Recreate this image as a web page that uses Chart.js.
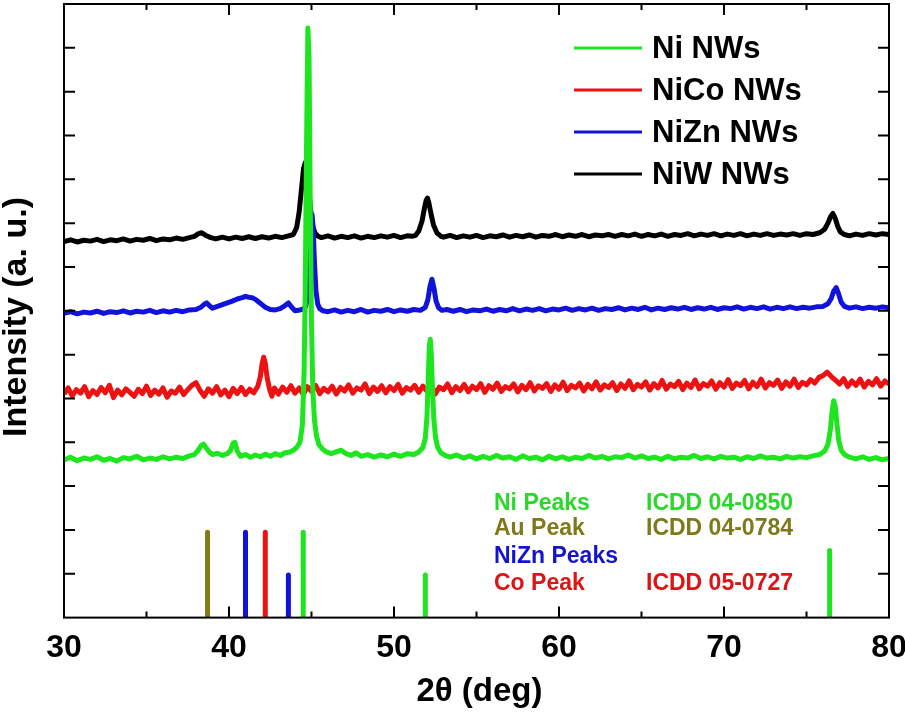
<!DOCTYPE html>
<html>
<head>
<meta charset="utf-8">
<title>XRD of Ni, NiCo, NiZn and NiW nanowires</title>
<script src="https://cdn.jsdelivr.net/npm/chart.js@4.4.1/dist/chart.umd.min.js"></script>
<style>
  html, body { margin: 0; padding: 0; background: #fff; }
  #xrd { display: block; }
</style>
</head>
<body>
<canvas id="xrd" width="905" height="720"></canvas>
<script>
// [2theta (deg), intensity], curves already stacked with their offsets
const ni = [
  [30.0,3.60],[30.4,3.66],[30.8,3.58],[31.2,3.64],[31.6,3.61],[32.0,3.67],[32.4,3.59],[32.8,3.63],[33.2,3.57],[33.6,3.65],
  [34.0,3.62],[34.4,3.68],[34.8,3.60],[35.2,3.64],[35.6,3.61],[36.0,3.67],[36.4,3.62],[36.8,3.66],[37.2,3.63],[37.6,3.69],
  [37.9,3.72],[38.1,3.80],[38.3,3.92],[38.45,3.96],[38.6,3.88],[38.8,3.78],[39.0,3.72],[39.3,3.75],[39.6,3.70],[39.9,3.74],
  [40.1,3.82],[40.25,3.98],[40.35,4.00],[40.5,3.80],[40.7,3.68],[41.0,3.72],[41.3,3.66],[41.6,3.71],[41.9,3.67],[42.2,3.73],
  [42.5,3.68],[42.8,3.74],[43.1,3.70],[43.4,3.76],[43.7,3.78],[43.9,3.82],[44.1,3.88],[44.3,4.00],[44.45,4.40],[44.55,5.60],
  [44.62,7.40],[44.7,10.8],[44.78,13.45],[44.85,12.8],[44.92,9.60],[45.0,6.70],[45.08,5.20],[45.18,4.50],[45.3,4.15],[45.45,3.95],
  [45.65,3.85],[45.9,3.78],[46.2,3.74],[46.5,3.78],[46.8,3.82],[47.1,3.74],[47.4,3.70],[47.7,3.76],[48.0,3.68],[48.4,3.72],
  [48.8,3.66],[49.2,3.71],[49.6,3.67],[50.0,3.73],[50.4,3.68],[50.8,3.74],[51.2,3.72],[51.5,3.78],[51.75,3.88],[51.9,4.10],
  [52.0,4.60],[52.08,5.50],[52.14,6.20],[52.2,6.35],[52.26,6.00],[52.33,5.20],[52.42,4.50],[52.52,4.10],[52.65,3.88],[52.85,3.76],
  [53.1,3.70],[53.4,3.66],[53.8,3.71],[54.2,3.64],[54.6,3.69],[55.0,3.62],[55.4,3.68],[55.8,3.63],[56.2,3.70],[56.6,3.64],
  [57.0,3.67],[57.4,3.61],[57.8,3.69],[58.2,3.63],[58.6,3.66],[59.0,3.60],[59.4,3.68],[59.8,3.62],[60.2,3.67],[60.6,3.61],
  [61.0,3.66],[61.4,3.63],[61.8,3.70],[62.2,3.64],[62.6,3.68],[63.0,3.62],[63.4,3.67],[63.8,3.65],[64.2,3.71],[64.6,3.64],
  [65.0,3.69],[65.4,3.63],[65.8,3.66],[66.2,3.61],[66.6,3.68],[67.0,3.62],[67.4,3.66],[67.8,3.64],[68.2,3.70],[68.6,3.63],
  [69.0,3.67],[69.4,3.62],[69.8,3.68],[70.2,3.64],[70.6,3.66],[71.0,3.61],[71.4,3.67],[71.8,3.63],[72.2,3.69],[72.6,3.64],
  [73.0,3.66],[73.4,3.62],[73.8,3.68],[74.2,3.64],[74.6,3.67],[75.0,3.65],[75.4,3.69],[75.8,3.72],[76.1,3.80],[76.3,3.95],
  [76.45,4.30],[76.55,4.70],[76.65,4.95],[76.75,4.80],[76.85,4.40],[76.95,4.05],[77.1,3.82],[77.3,3.72],[77.6,3.66],[78.0,3.62],
  [78.4,3.67],[78.8,3.61],[79.2,3.65],[79.6,3.60],[80.0,3.63]
];

const nico = [
  [30.0,5.10],[30.25,5.24],[30.5,5.06],[30.75,5.20],[31.0,5.12],[31.25,5.27],[31.5,5.04],[31.75,5.18],[32.0,5.09],[32.25,5.25],
  [32.5,5.13],[32.75,5.30],[33.0,5.02],[33.25,5.19],[33.5,5.08],[33.75,5.22],[34.0,5.14],[34.25,5.05],[34.5,5.21],[34.75,5.11],
  [35.0,5.28],[35.25,5.07],[35.5,5.19],[35.75,5.10],[36.0,5.24],[36.25,5.03],[36.5,5.17],[36.75,5.12],[37.0,5.26],[37.25,5.09],
  [37.5,5.20],[37.75,5.30],[38.0,5.36],[38.25,5.18],[38.5,5.05],[38.75,5.22],[39.0,5.12],[39.25,5.27],[39.5,5.08],[39.75,5.19],
  [40.0,5.04],[40.25,5.23],[40.5,5.11],[40.75,5.25],[41.0,5.09],[41.25,5.21],[41.5,5.13],[41.75,5.28],[41.9,5.50],[42.0,5.78],
  [42.1,5.94],[42.2,5.80],[42.3,5.50],[42.45,5.22],[42.6,5.05],[42.75,5.24],[43.0,5.10],[43.25,5.26],[43.5,5.14],[43.75,5.29],
  [44.0,5.12],[44.25,5.24],[44.5,5.09],[44.75,5.27],[45.0,5.16],[45.25,5.30],[45.5,5.11],[45.75,5.23],[46.0,5.15],[46.25,5.28],
  [46.5,5.10],[46.75,5.25],[47.0,5.17],[47.25,5.31],[47.5,5.12],[47.75,5.24],[48.0,5.19],[48.25,5.33],[48.5,5.11],[48.75,5.26],
  [49.0,5.16],[49.25,5.29],[49.5,5.13],[49.75,5.27],[50.0,5.18],[50.25,5.32],[50.5,5.12],[50.75,5.25],[51.0,5.19],[51.25,5.30],
  [51.5,5.14],[51.75,5.28],[52.0,5.17],[52.25,5.31],[52.5,5.10],[52.75,5.26],[53.0,5.20],[53.25,5.33],[53.5,5.13],[53.75,5.27],
  [54.0,5.18],[54.25,5.32],[54.5,5.15],[54.75,5.28],[55.0,5.20],[55.25,5.34],[55.5,5.14],[55.75,5.29],[56.0,5.21],[56.25,5.35],
  [56.5,5.16],[56.75,5.27],[57.0,5.22],[57.25,5.33],[57.5,5.15],[57.75,5.30],[58.0,5.20],[58.25,5.36],[58.5,5.17],[58.75,5.29],
  [59.0,5.23],[59.25,5.34],[59.5,5.16],[59.75,5.31],[60.0,5.21],[60.25,5.37],[60.5,5.18],[60.75,5.30],[61.0,5.24],[61.25,5.35],
  [61.5,5.17],[61.75,5.32],[62.0,5.22],[62.25,5.38],[62.5,5.19],[62.75,5.31],[63.0,5.25],[63.25,5.36],[63.5,5.18],[63.75,5.33],
  [64.0,5.23],[64.25,5.40],[64.5,5.20],[64.75,5.32],[65.0,5.26],[65.25,5.38],[65.5,5.19],[65.75,5.34],[66.0,5.24],[66.25,5.41],
  [66.5,5.21],[66.75,5.33],[67.0,5.27],[67.25,5.39],[67.5,5.20],[67.75,5.35],[68.0,5.25],[68.25,5.42],[68.5,5.22],[68.75,5.34],
  [69.0,5.28],[69.25,5.40],[69.5,5.21],[69.75,5.36],[70.0,5.26],[70.25,5.43],[70.5,5.23],[70.75,5.35],[71.0,5.29],[71.25,5.41],
  [71.5,5.22],[71.75,5.37],[72.0,5.27],[72.25,5.44],[72.5,5.24],[72.75,5.36],[73.0,5.30],[73.25,5.42],[73.5,5.23],[73.75,5.38],
  [74.0,5.28],[74.25,5.44],[74.5,5.25],[74.75,5.37],[75.0,5.31],[75.25,5.43],[75.5,5.35],[75.75,5.48],[76.0,5.52],[76.25,5.60],
  [76.5,5.50],[76.75,5.42],[77.0,5.33],[77.25,5.45],[77.5,5.27],[77.75,5.40],[78.0,5.30],[78.25,5.44],[78.5,5.26],[78.75,5.39],
  [79.0,5.31],[79.25,5.45],[79.5,5.28],[79.75,5.40],[80.0,5.33]
];

const nizn = [
  [30.0,6.94],[30.4,6.98],[30.8,6.93],[31.2,6.97],[31.6,6.95],[32.0,6.99],[32.4,6.94],[32.8,6.98],[33.2,6.96],[33.6,7.00],
  [34.0,6.95],[34.4,6.99],[34.8,6.97],[35.2,7.01],[35.6,6.96],[36.0,7.00],[36.4,6.97],[36.8,7.01],[37.2,6.98],[37.6,7.02],
  [38.0,7.03],[38.3,7.08],[38.5,7.15],[38.65,7.18],[38.8,7.12],[39.0,7.06],[39.3,7.10],[39.6,7.14],[39.9,7.18],[40.2,7.22],
  [40.5,7.27],[40.8,7.30],[41.0,7.33],[41.2,7.31],[41.4,7.30],[41.6,7.26],[41.8,7.20],[42.0,7.14],[42.2,7.08],[42.5,7.03],
  [42.8,7.02],[43.1,7.05],[43.4,7.12],[43.6,7.18],[43.8,7.08],[44.0,7.00],[44.3,7.02],[44.5,7.04],[44.65,7.10],[44.75,7.30],
  [44.85,7.80],[44.95,8.60],[45.03,9.20],[45.1,8.90],[45.18,8.10],[45.27,7.45],[45.38,7.15],[45.5,7.05],[45.7,7.00],[46.0,6.98],
  [46.4,7.02],[46.8,6.97],[47.2,7.01],[47.6,6.98],[48.0,7.03],[48.4,6.97],[48.8,7.01],[49.2,6.99],[49.6,7.03],[50.0,6.98],
  [50.4,7.02],[50.8,6.99],[51.2,7.03],[51.6,7.01],[51.9,7.08],[52.05,7.25],[52.18,7.55],[52.3,7.72],[52.42,7.52],[52.55,7.22],
  [52.7,7.07],[52.9,7.01],[53.2,7.03],[53.6,6.99],[54.0,7.03],[54.4,6.98],[54.8,7.02],[55.2,7.00],[55.6,7.04],[56.0,6.99],
  [56.4,7.03],[56.8,7.00],[57.2,7.05],[57.6,7.00],[58.0,7.04],[58.4,7.01],[58.8,7.05],[59.2,7.00],[59.6,7.04],[60.0,7.02],
  [60.4,7.06],[60.8,7.01],[61.2,7.05],[61.6,7.02],[62.0,7.06],[62.4,7.01],[62.8,7.05],[63.2,7.03],[63.6,7.07],[64.0,7.02],
  [64.4,7.06],[64.8,7.03],[65.2,7.08],[65.6,7.02],[66.0,7.06],[66.4,7.03],[66.8,7.07],[67.2,7.04],[67.6,7.08],[68.0,7.03],
  [68.4,7.07],[68.8,7.04],[69.2,7.08],[69.6,7.03],[70.0,7.07],[70.4,7.05],[70.8,7.09],[71.2,7.04],[71.6,7.08],[72.0,7.05],
  [72.4,7.09],[72.8,7.04],[73.2,7.08],[73.6,7.05],[74.0,7.09],[74.4,7.05],[74.8,7.08],[75.2,7.06],[75.6,7.09],[76.0,7.10],
  [76.3,7.16],[76.5,7.28],[76.65,7.45],[76.8,7.53],[76.95,7.38],[77.1,7.20],[77.3,7.10],[77.6,7.06],[78.0,7.09],[78.4,7.05],
  [78.8,7.08],[79.2,7.06],[79.6,7.09],[80.0,7.07]
];

const niw = [
  [30.0,8.58],[30.4,8.62],[30.8,8.57],[31.2,8.61],[31.6,8.59],[32.0,8.63],[32.4,8.58],[32.8,8.62],[33.2,8.60],[33.6,8.64],
  [34.0,8.59],[34.4,8.63],[34.8,8.61],[35.2,8.65],[35.6,8.60],[36.0,8.64],[36.4,8.62],[36.8,8.66],[37.2,8.63],[37.6,8.67],
  [37.9,8.70],[38.15,8.76],[38.35,8.78],[38.6,8.72],[38.9,8.67],[39.2,8.64],[39.6,8.68],[40.0,8.64],[40.4,8.68],[40.8,8.65],
  [41.2,8.69],[41.6,8.65],[42.0,8.69],[42.4,8.66],[42.8,8.70],[43.2,8.67],[43.6,8.71],[43.9,8.74],[44.1,8.90],[44.25,9.25],
  [44.4,9.80],[44.52,10.25],[44.62,10.38],[44.72,10.20],[44.84,9.75],[44.96,9.25],[45.08,8.92],[45.22,8.77],[45.4,8.70],[45.6,8.67],
  [46.0,8.71],[46.4,8.66],[46.8,8.70],[47.2,8.67],[47.6,8.71],[48.0,8.66],[48.4,8.70],[48.8,8.67],[49.2,8.71],[49.6,8.68],
  [50.0,8.72],[50.4,8.67],[50.8,8.71],[51.1,8.70],[51.3,8.72],[51.5,8.82],[51.7,9.05],[51.85,9.35],[51.95,9.52],[52.03,9.57],
  [52.12,9.45],[52.25,9.20],[52.4,8.95],[52.6,8.78],[52.85,8.70],[53.0,8.68],[53.4,8.72],[53.8,8.67],[54.2,8.71],[54.6,8.68],
  [55.0,8.72],[55.4,8.67],[55.8,8.71],[56.2,8.69],[56.6,8.73],[57.0,8.68],[57.4,8.72],[57.8,8.69],[58.2,8.73],[58.6,8.68],
  [59.0,8.72],[59.4,8.70],[59.8,8.74],[60.2,8.69],[60.6,8.73],[61.0,8.70],[61.4,8.74],[61.8,8.69],[62.2,8.73],[62.6,8.71],
  [63.0,8.74],[63.4,8.70],[63.8,8.74],[64.2,8.71],[64.6,8.75],[65.0,8.70],[65.4,8.74],[65.8,8.71],[66.2,8.75],[66.6,8.70],
  [67.0,8.74],[67.4,8.72],[67.8,8.76],[68.2,8.71],[68.6,8.75],[69.0,8.72],[69.4,8.76],[69.8,8.71],[70.2,8.75],[70.6,8.72],
  [71.0,8.76],[71.4,8.71],[71.8,8.75],[72.2,8.72],[72.6,8.76],[73.0,8.72],[73.4,8.75],[73.8,8.73],[74.2,8.76],[74.6,8.72],
  [75.0,8.76],[75.4,8.74],[75.8,8.78],[76.1,8.86],[76.3,9.00],[76.45,9.14],[76.6,9.22],[76.75,9.10],[76.9,8.92],[77.05,8.80],
  [77.3,8.74],[77.6,8.71],[78.0,8.75],[78.4,8.72],[78.8,8.76],[79.2,8.73],[79.6,8.76],[80.0,8.74]
];

const seriesNames = ["Ni NWs", "NiCo NWs", "NiZn NWs", "NiW NWs"];

// reference stick patterns: positions (deg) and stick heights
const niRefPos = [44.5, 51.9, 76.4];
const niRefHeight = [1.95, 0.97, 1.53];
const auRefPos = [38.7];
const auRefHeight = [1.95];
const niznRefPos = [41.0, 43.6];
const niznRefHeight = [1.95, 0.97];
const coRefPos = [42.2];
const coRefHeight = [1.95];

// card captions in the lower right of the plot
const cardNames = ["Ni Peaks", "Au Peak", "NiZn Peaks", "Co Peak"];
const cardNumbers = ["ICDD 04-0850", "ICDD 04-0784", "", "ICDD 05-0727"];

const GREEN = "#1ee61e";
const RED = "#ee1111";
const BLUE = "#1212dd";
const BLACK = "#000000";
const OLIVE = "#827c16";
const FONT = '"Liberation Sans", Arial, Helvetica, sans-serif';

function toPoints(pairs) {
  return pairs.map(p => ({ x: p[0], y: p[1] }));
}

// each stick goes from the axis up to its height; a null point breaks the line between sticks
function sticks(pos, height) {
  const pts = [];
  pos.forEach((p, i) => {
    if (i > 0) pts.push({ x: p, y: null });
    pts.push({ x: p, y: 0 });
    pts.push({ x: p, y: height[i] });
  });
  return pts;
}

function trace(label, pairs, color, width) {
  return {
    label: label,
    data: toPoints(pairs),
    borderColor: color,
    borderWidth: width,
    borderJoinStyle: "round",
    pointRadius: 0,
    tension: 0,
    fill: false
  };
}

function stickSet(label, pos, height, color) {
  return {
    label: label,
    data: sticks(pos, height),
    borderColor: color,
    borderWidth: 5,
    borderCapStyle: "round",
    pointRadius: 0,
    spanGaps: false,
    fill: false
  };
}

const frameAndText = {
  id: "frameAndText",
  afterDatasetsDraw(chart) {
    const ctx = chart.ctx;
    const a = chart.chartArea;
    const x = chart.scales.x;
    const y = chart.scales.y;
    ctx.save();

    // box with inward ticks on every side
    ctx.strokeStyle = "#000";
    ctx.lineWidth = 2;
    ctx.strokeRect(a.left, a.top, a.right - a.left, a.bottom - a.top);
    ctx.beginPath();
    for (let v = 30; v <= 80; v += 5) {
      const px = x.getPixelForValue(v);
      const len = v % 10 === 0 ? 11 : 6;
      ctx.moveTo(px, a.bottom);
      ctx.lineTo(px, a.bottom - len);
      ctx.moveTo(px, a.top);
      ctx.lineTo(px, a.top + len);
    }
    for (let v = 1; v < 14; v++) {
      const py = y.getPixelForValue(v);
      ctx.moveTo(a.left, py);
      ctx.lineTo(a.left + 11, py);
      ctx.moveTo(a.right, py);
      ctx.lineTo(a.right - 11, py);
    }
    ctx.stroke();

    // legend
    const colors = [GREEN, RED, BLUE, BLACK];
    ctx.font = "bold 31px " + FONT;
    ctx.textBaseline = "alphabetic";
    ctx.textAlign = "left";
    seriesNames.forEach((name, i) => {
      const ly = 48 + i * 42;
      ctx.strokeStyle = colors[i];
      ctx.lineWidth = 3;
      ctx.beginPath();
      ctx.moveTo(574, ly);
      ctx.lineTo(642, ly);
      ctx.stroke();
      ctx.fillStyle = "#000";
      ctx.fillText(name, 652, ly + 10);
    });

    // ICDD card captions
    const capColors = ["#2ad82a", "#7e7a1c", "#1414cc", "#dd1414"];
    const capRows = [510, 535, 563, 590];
    ctx.font = "bold 23px " + FONT;
    cardNames.forEach((name, i) => {
      ctx.fillStyle = capColors[i];
      ctx.fillText(name, 494, capRows[i]);
      if (cardNumbers[i]) ctx.fillText(cardNumbers[i], 646, capRows[i]);
    });

    // axis titles
    ctx.fillStyle = "#000";
    ctx.textAlign = "center";
    ctx.textBaseline = "middle";
    ctx.font = "bold 33px " + FONT;
    ctx.fillText("2\u03b8 (deg)", (a.left + a.right) / 2 + 3, 692);
    ctx.translate(17, 317);
    ctx.rotate(-Math.PI / 2);
    ctx.font = "bold 34px " + FONT;
    ctx.fillText("Intensity (a. u.)", 0, 0);
    ctx.restore();
  }
};

new Chart(document.getElementById("xrd"), {
  type: "line",
  data: {
    datasets: [
      trace(seriesNames[0], ni, GREEN, 5),
      trace(seriesNames[1], nico, RED, 5),
      trace(seriesNames[2], nizn, BLUE, 5),
      trace(seriesNames[3], niw, BLACK, 5),
      stickSet("Ni ref", niRefPos, niRefHeight, GREEN),
      stickSet("Au ref", auRefPos, auRefHeight, OLIVE),
      stickSet("NiZn ref", niznRefPos, niznRefHeight, BLUE),
      stickSet("Co ref", coRefPos, coRefHeight, RED)
    ]
  },
  options: {
    responsive: false,
    animation: false,
    devicePixelRatio: 1,
    layout: {
      autoPadding: false,
      padding: { left: 64, right: 16, top: 4, bottom: 42 }
    },
    plugins: {
      legend: { display: false },
      tooltip: { enabled: false }
    },
    scales: {
      x: {
        type: "linear",
        min: 30,
        max: 80,
        grid: { display: false, drawTicks: false },
        border: { display: false },
        // let the "80" label run to the canvas edge like in the original
        afterFit: function (scale) {
          scale.paddingLeft = 0;
          scale.paddingRight = 0;
        },
        ticks: {
          stepSize: 10,
          padding: 11,
          color: "#000",
          font: { family: FONT, size: 32, weight: "bold" }
        }
      },
      y: {
        type: "linear",
        min: 0,
        max: 14,
        display: false
      }
    }
  },
  plugins: [frameAndText]
});
</script>
</body>
</html>
